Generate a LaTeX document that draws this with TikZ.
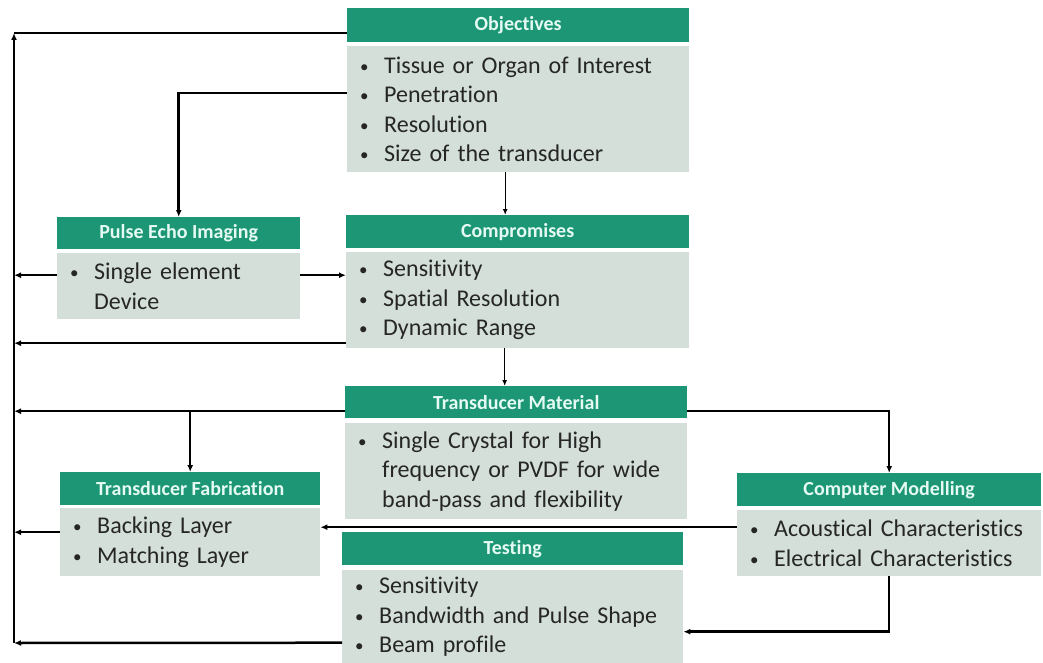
\documentclass[tikz,border=0pt]{standalone}
\usepackage{fontspec}
\setmainfont{Carlito}[Ligatures={NoCommon,NoContextual}]
\usetikzlibrary{arrows.meta}

\definecolor{headgreen}{RGB}{28,150,116}
\definecolor{headtext}{RGB}{228,250,242}
\definecolor{bodygrey}{RGB}{211,223,216}
\definecolor{bodytext}{RGB}{38,38,38}

\newcommand{\itm}{\makebox[24pt][l]{\raisebox{1pt}{\fontsize{17}{17}\selectfont\textbullet}}}
\newcommand{\cnt}{\hspace*{24pt}}

\begin{document}
\begin{tikzpicture}[x=1pt, y=-1pt,
    head/.style={fill=headgreen, text=headtext, anchor=north west, inner sep=0pt,
        font=\fontsize{20}{24}\selectfont\bfseries},
    body/.style={fill=bodygrey, text=bodytext, anchor=north west, inner xsep=13pt,
        inner ysep=0pt, align=left, font=\fontsize{24}{29.5}\selectfont},
    link/.style={line width=2.5pt, -{Latex[length=7pt,width=6pt]}},
    plain/.style={line width=2.5pt},
    thinlink/.style={line width=1.2pt, -{Latex[length=6pt,width=5pt]}}]
    \useasboundingbox (0,0) rectangle (1043,663);

    % Objectives
    \node[head, minimum width=342pt, minimum height=34pt] (objh) at (347,8) {Objectives};
    \node[body, text width=316pt, minimum height=126pt] (objb) at (347,46)
        {\itm Tissue or Organ of Interest\\ \itm Penetration\\ \itm Resolution\\ \itm Size of the transducer};

    % Pulse Echo Imaging
    \node[head, minimum width=243pt, minimum height=32pt] (peih) at (57,217) {Pulse Echo Imaging};
    \node[body, text width=217pt, minimum height=66pt] (peib) at (57,253)
        {\itm Single element\\ \cnt Device};

    % Compromises
    \node[head, minimum width=343pt, minimum height=33pt] (comph) at (346,215) {Compromises};
    \node[body, text width=317pt, minimum height=96pt] (compb) at (346,252)
        {\itm Sensitivity\\ \itm Spatial Resolution\\ \itm Dynamic Range};

    % Transducer Material
    \node[head, minimum width=342pt, minimum height=32pt] (tmh) at (345,386) {Transducer Material};
    \node[body, text width=316pt, minimum height=96pt] (tmb) at (345,423)
        {\itm Single Crystal for High\\ \cnt frequency or PVDF for wide\\ \cnt band-pass and flexibility};

    % Transducer Fabrication
    \node[head, minimum width=260pt, minimum height=33pt] (tfh) at (60,472) {Transducer Fabrication};
    \node[body, text width=234pt, minimum height=68pt] (tfb) at (60,508)
        {\itm Backing Layer\\ \itm Matching Layer};

    % Computer Modelling
    \node[head, minimum width=304pt, minimum height=33pt] (cmh) at (737,473) {Computer Modelling};
    \node[body, text width=278pt, minimum height=66pt] (cmb) at (737,510)
        {\itm Acoustical Characteristics\\ \itm Electrical Characteristics};

    % Testing
    \node[head, minimum width=341pt, minimum height=33pt] (testh) at (342,532) {Testing};
    \node[body, text width=315pt, minimum height=93pt] (testb) at (342,570)
        {\itm Sensitivity\\ \itm Bandwidth and Pulse Shape\\ \itm Beam profile};

    % feedback bus
    \coordinate (bustop) at (14,33);
    \coordinate (busbot) at (14,643);

    \draw[plain] (bustop) -- (bustop -| objh.west);
    \draw[link] ([yshift=16pt]objb.west) -| (peih.north);
    \draw[thinlink] ([xshift=-13pt]objb.south) -- ([xshift=-13pt]objb.south |- comph.north);
    \draw[link] ([yshift=11pt]peib.west) -- ([yshift=11pt]peib.west -| bustop);
    \draw[link] ([yshift=11pt]peib.east) -- ([yshift=11pt]peib.east -| compb.west);
    \draw[link] ([yshift=-43pt]compb.west) -- ([yshift=-43pt]compb.west -| bustop);
    \draw[thinlink] ([xshift=-13pt]compb.south) -- ([xshift=-13pt]compb.south |- tmh.north);
    \draw[link] ([yshift=-9pt]tmh.west) -- ([yshift=-9pt]tmh.west -| bustop);
    \draw[link] ([yshift=-9pt]tmh.west -| tfh.north) -- (tfh.north);
    \draw[link] ([yshift=-9pt]tmh.east) -| (cmh.north);
    \draw[link] ([yshift=16pt]cmb.west) -- ([yshift=16pt]cmb.west -| tfb.east);
    \draw[link] ([yshift=10pt]tfb.west) -- ([yshift=10pt]tfb.west -| bustop);
    \draw[link] (cmb.south) |- ([yshift=-15pt]testb.east);
    \draw[link] ([yshift=-26pt]testb.west) -- (busbot);
    \draw[link] (busbot) -- (bustop);
\end{tikzpicture}
\end{document}
